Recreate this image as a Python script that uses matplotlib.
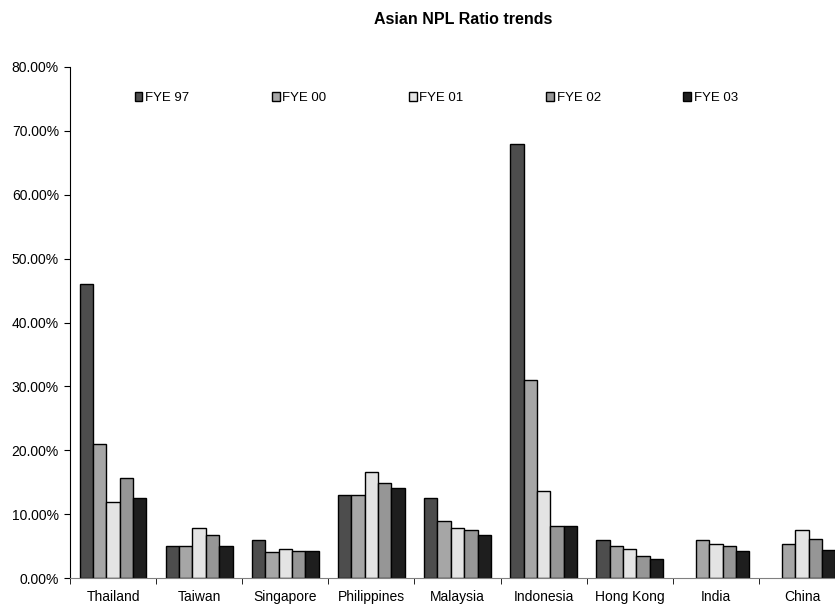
import numpy as np
import matplotlib.pyplot as plt
from matplotlib.ticker import PercentFormatter

plt.rcParams['font.family'] = ['Liberation Sans', 'DejaVu Sans']

countries = ['Thailand', 'Taiwan', 'Singapore', 'Philippines', 'Malaysia',
             'Indonesia', 'Hong Kong', 'India', 'China']
series = ['FYE 97', 'FYE 00', 'FYE 01', 'FYE 02', 'FYE 03']

# NPL ratios in %, nan where no figure was reported
fye97 = [46.0, 5.0, 6.0, 13.0, 12.5, 68.0, 6.0, np.nan, np.nan]
fye00 = [21.0, 5.0, 4.0, 13.0, 9.0, 31.0, 5.0, 6.0, 5.4]
fye01 = [11.9, 7.8, 4.5, 16.6, 7.9, 13.6, 4.6, 5.4, 7.45]
fye02 = [15.7, 6.8, 4.2, 14.9, 7.5, 8.1, 3.5, 4.95, 6.1]
fye03 = [12.6, 5.0, 4.2, 14.1, 6.8, 8.2, 3.0, 4.3, 4.4]

values = [fye97, fye00, fye01, fye02, fye03]
colors = ['#4d4d4d', '#a6a6a6', '#e4e4e4', '#969696', '#1e1e1e']

fig = plt.figure(figsize=(8.35, 6.05), dpi=100)
ax = fig.add_axes([70 / 835, 27 / 605, 775 / 835, 511 / 605])

x = np.arange(len(countries)) + 0.5
w = 0.155
for i, (name, vals, c) in enumerate(zip(series, values, colors)):
    ax.bar(x + (i - 2) * w, np.array(vals) / 100, width=w, color=c,
           edgecolor='black', linewidth=1.0, label=name)

ax.set_xlim(0, len(countries))
ax.set_ylim(0, 0.8)
ax.set_yticks(np.arange(0, 0.81, 0.1))
ax.yaxis.set_major_formatter(PercentFormatter(1.0, decimals=2))

ax.set_xticks(x)
ax.set_xticklabels(countries)
ax.set_xticks(np.arange(0, len(countries) + 1), minor=True)
ax.tick_params(axis='x', which='major', length=0, pad=8.5, labelsize=10)
ax.tick_params(axis='x', which='minor', length=4, direction='out', color='black')
ax.tick_params(axis='y', length=4, direction='out', labelsize=10, pad=4)

ax.spines['top'].set_visible(False)
ax.spines['right'].set_visible(False)
ax.spines['bottom'].set_color('#808080')
ax.spines['left'].set_color('black')

ax.legend(loc='upper left', bbox_to_anchor=(0.068, 0.974), ncol=5, frameon=False,
          handlelength=0.6, handleheight=0.6, handletextpad=0.2,
          columnspacing=6.25, fontsize=9.5)

fig.text(463 / 835, 1 - 19 / 605, 'Asian NPL Ratio trends', ha='center',
         va='center', fontsize=11.5, fontweight='bold')

fig.savefig('out.png', dpi=100)
